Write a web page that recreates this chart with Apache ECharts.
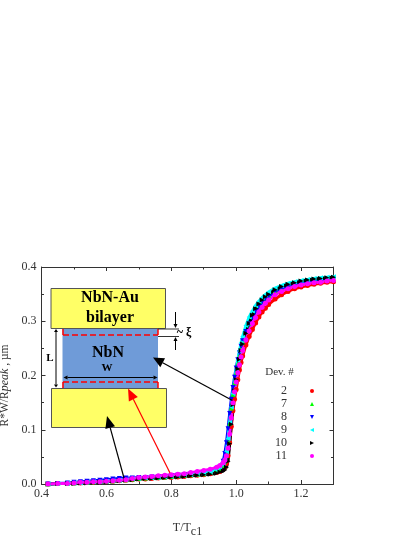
<!DOCTYPE html>
<html>
<head>
<meta charset="utf-8">
<style>html,body{margin:0;padding:0;background:#fff}#main{width:415px;height:537px}</style>
<script src="https://cdn.jsdelivr.net/npm/echarts@6/dist/echarts.min.js"></script>
</head>
<body>
<div id="main"></div>
<script>
// values
var T = [0.42,0.45,0.48,0.50,0.52,0.54,0.56,0.58,0.60,0.62,0.64,0.66,0.68,0.70,0.72,0.74,0.76,0.78,0.80,0.82,0.84,0.86,0.88,0.90,0.92,0.94,0.95,0.96,0.965,0.97,0.975,0.98,0.985,0.99,0.995,1.00,1.005,1.01,1.015,1.02,1.03,1.04,1.05,1.06,1.07,1.08,1.09,1.10,1.12,1.14,1.16,1.18,1.20,1.22,1.24,1.26,1.28,1.30];
var dev2  = [.000,.001,.001,.002,.002,.003,.003,.004,.004,.005,.006,.007,.008,.009,.009,.010,.011,.012,.012,.013,.014,.015,.016,.017,.019,.021,.023,.027,.031,.038,.052,.076,.106,.135,.156,.174,.192,.210,.224,.236,.256,.272,.285,.297,.308,.317,.324,.331,.341,.349,.355,.360,.363,.366,.368,.370,.372,.373];
var dev7  = [.000,.001,.001,.002,.003,.003,.004,.005,.005,.006,.007,.008,.009,.010,.011,.012,.012,.013,.014,.015,.016,.017,.018,.019,.021,.025,.028,.034,.042,.058,.080,.112,.140,.165,.186,.205,.222,.236,.250,.262,.281,.296,.309,.320,.329,.337,.343,.348,.356,.361,.365,.368,.371,.373,.375,.376,.377,.378];
var dev8  = [.000,.001,.002,.003,.004,.005,.006,.007,.008,.009,.010,.011,.011,.012,.012,.013,.013,.014,.015,.016,.017,.018,.019,.021,.023,.027,.032,.042,.056,.076,.102,.130,.156,.178,.197,.214,.229,.242,.254,.264,.281,.295,.307,.318,.327,.335,.341,.346,.354,.360,.364,.367,.370,.372,.374,.375,.376,.377];
var dev9  = [.000,.001,.001,.002,.002,.003,.004,.004,.005,.006,.007,.008,.009,.010,.011,.011,.012,.013,.014,.015,.016,.017,.018,.020,.022,.026,.029,.035,.044,.060,.084,.114,.142,.167,.190,.210,.228,.245,.260,.272,.292,.308,.319,.329,.337,.344,.349,.354,.361,.366,.370,.373,.375,.377,.379,.380,.381,.382];
var dev10 = [.000,.001,.001,.001,.002,.002,.003,.003,.004,.005,.006,.007,.008,.009,.010,.010,.011,.012,.013,.013,.014,.015,.016,.017,.018,.020,.022,.024,.026,.031,.042,.074,.110,.146,.172,.192,.212,.230,.246,.258,.278,.296,.311,.323,.332,.339,.345,.350,.358,.364,.368,.371,.374,.376,.378,.379,.380,.381];
var dev11 = [.000,.001,.001,.002,.003,.003,.004,.004,.005,.006,.007,.008,.010,.012,.013,.014,.015,.016,.017,.018,.019,.021,.023,.025,.027,.031,.034,.039,.044,.052,.066,.092,.122,.150,.170,.188,.205,.220,.234,.246,.266,.282,.296,.307,.317,.326,.333,.339,.349,.355,.360,.364,.367,.369,.371,.372,.374,.375];
var seriesNames = ['2','7','8','9','10','11'];
var seriesValues = [dev2,dev7,dev8,dev9,dev10,dev11];
var seriesColors = ['#ff0000','#00ff00','#0000ff','#00ffff','#000000','#ff00ff'];
var seriesSymbols = ['circle','triangle','path://M0,0 L10,0 L5,10 Z','path://M10,0 L10,10 L0,5 Z','path://M0,0 L0,10 L10,5 Z','circle'];

var chart = echarts.init(document.getElementById('main'));
var serif = '"Liberation Serif", "Times New Roman", serif';
var textGray = '#333';

function arrow(x1, y1, x2, y2, color, w, hl, hw) {
  var a = Math.atan2(y2 - y1, x2 - x1), c = Math.cos(a), s = Math.sin(a);
  var bx = x2 - hl * c, by = y2 - hl * s;
  return [
    {type: 'line', z: 20, shape: {x1: x1, y1: y1, x2: bx, y2: by}, style: {stroke: color, lineWidth: w}},
    {type: 'polygon', z: 20, shape: {points: [[x2, y2], [bx - hw * s, by + hw * c], [bx + hw * s, by - hw * c]]}, style: {fill: color}}
  ];
}
function rect(x1, y1, x2, y2, style, z) {
  return {type: 'rect', z: z || 10, shape: {x: x1, y: y1, width: x2 - x1, height: y2 - y1}, style: style};
}
function label(x, y, str, size, bold, fill) {
  return {type: 'text', z: 21, x: x, y: y, style: {text: str, font: (bold ? 'bold ' : '') + size + 'px ' + serif, fill: fill || '#000', textAlign: 'center', textVerticalAlign: 'middle'}};
}
function hline(x1, y, x2, color) {
  return {type: 'line', z: 12, shape: {x1: x1, y1: y, x2: x2, y2: y}, style: {stroke: color, lineWidth: 1}};
}

var yellow = {fill: '#ffff66', stroke: '#555', lineWidth: 1};
var dashRed = {stroke: '#ff0000', lineWidth: 1.5, lineDash: [6, 3]};
var inset = [
  rect(62.5, 328, 158, 388.5, {fill: '#6f9bd8'}, 9),
  rect(51, 288.5, 165.5, 328.5, yellow),
  rect(51.5, 388.5, 166.5, 427.5, yellow),
  {type: 'line', z: 12, shape: {x1: 63, y1: 335, x2: 158, y2: 335}, style: dashRed},
  {type: 'line', z: 12, shape: {x1: 63, y1: 382, x2: 158, y2: 382}, style: dashRed},
  {type: 'line', z: 12, shape: {x1: 63, y1: 329, x2: 63, y2: 335}, style: {stroke: '#ff0000', lineWidth: 1.5}},
  {type: 'line', z: 12, shape: {x1: 158, y1: 329, x2: 158, y2: 335}, style: {stroke: '#ff0000', lineWidth: 1.5}},
  {type: 'line', z: 12, shape: {x1: 63, y1: 382, x2: 63, y2: 388}, style: {stroke: '#ff0000', lineWidth: 1.5}},
  {type: 'line', z: 12, shape: {x1: 158, y1: 382, x2: 158, y2: 388}, style: {stroke: '#ff0000', lineWidth: 1.5}},
  hline(158, 329, 179, '#333'),
  hline(158, 336.5, 179, '#333'),
  label(110, 298, 'NbN-Au', 16, true),
  label(110, 318, 'bilayer', 16, true),
  label(108, 353, 'NbN', 16, true),
  label(107, 368, 'W', 11, true),
  label(50, 358, 'L', 11, true),
  label(184, 333, '~ ξ', 12, true),
  label(279.5, 372, 'Dev. #', 11, false, textGray)
].concat(
  arrow(56, 358, 56, 329, '#000', 1, 3, 2), arrow(56, 358, 56, 387.5, '#000', 1, 3, 2),
  arrow(110, 377.5, 63.5, 377.5, '#000', 1, 4, 2), arrow(110, 377.5, 157.5, 377.5, '#000', 1, 4, 2),
  arrow(175.5, 312, 175.5, 328, '#000', 1, 4, 2), arrow(175.5, 350, 175.5, 337, '#000', 1, 4, 2),
  arrow(232.5, 400.5, 153, 357.5, '#000', 1.2, 11, 5),
  arrow(124, 478, 107, 416, '#000', 1.2, 12, 5),
  arrow(170, 473, 128, 388.5, '#ff0000', 1.2, 12, 5)
);

function frameAxis(base) {
  return Object.assign({
    type: 'value',
    axisLine: {onZero: false, lineStyle: {color: '#333', width: 1}},
    axisTick: {inside: true, length: 4, lineStyle: {color: '#333'}},
    minorTick: {show: true, splitNumber: 2, length: 2.5, lineStyle: {color: '#333'}},
    splitLine: {show: false},
    minorSplitLine: {show: false}
  }, base);
}
var labelStyle = {color: textGray, fontFamily: serif, fontSize: 12, showMaxLabel: false};

chart.setOption({
  animation: false,
  backgroundColor: '#fff',
  grid: {left: 41.5, right: 81.5, top: 267, bottom: 53, containLabel: false, outerBoundsMode: 'none'},
  xAxis: [
    frameAxis({min: 0.4, max: 1.3, interval: 0.2, position: 'bottom',
      name: '{a|T/T}{b|c1}', nameLocation: 'middle', nameGap: 34,
      nameTextStyle: {rich: {a: {fontFamily: serif, fontSize: 12, color: textGray}, b: {fontFamily: serif, fontSize: 12, color: textGray, padding: [8, 0, 0, 0]}}},
      axisLabel: Object.assign({margin: 4, formatter: function (v) { return v.toFixed(1); }}, labelStyle)}),
    frameAxis({min: 0.4, max: 1.3, interval: 0.2, position: 'top', axisLabel: {show: false}})
  ],
  yAxis: [
    frameAxis({min: 0, max: 0.4, interval: 0.1, position: 'left',
      name: '{a|R*W/R}{b|peak}{a| , µm}', nameLocation: 'middle', nameGap: 29,
      nameTextStyle: {padding: [0, 0, 0, -20], rich: {a: {fontFamily: serif, fontSize: 11.5, color: textGray}, b: {fontFamily: serif, fontSize: 12, fontStyle: 'italic', color: textGray}}},
      axisLabel: Object.assign({margin: 5, formatter: function (v) { return v.toFixed(1); }}, labelStyle, {showMaxLabel: true})}),
    frameAxis({min: 0, max: 0.4, interval: 0.1, position: 'right', axisLabel: {show: false}})
  ],
  legend: {
    orient: 'vertical', left: 270, top: 380, itemGap: 1, itemWidth: 4, itemHeight: 4, align: 'right',
    selectedMode: false,
    textStyle: {fontFamily: serif, fontSize: 12, color: textGray, width: 16, align: 'center', padding: [0, 18, 0, 0]},
    data: seriesNames.map(function (n, i) {
      return {name: n, icon: seriesSymbols[i], itemStyle: {color: seriesColors[i]}};
    })
  },
  series: seriesNames.map(function (n, i) {
    return {
      name: n, type: 'line', xAxisIndex: 0, yAxisIndex: 0, clip: false,
      symbol: seriesSymbols[i], symbolSize: 5, showSymbol: true, showAllSymbol: true,
      data: T.map(function (t, j) { return [t, seriesValues[i][j]]; }),
      itemStyle: {color: seriesColors[i]},
      lineStyle: {color: seriesColors[i], width: 3}
    };
  }),
  graphic: {elements: inset}
});
</script>
</body>
</html>
